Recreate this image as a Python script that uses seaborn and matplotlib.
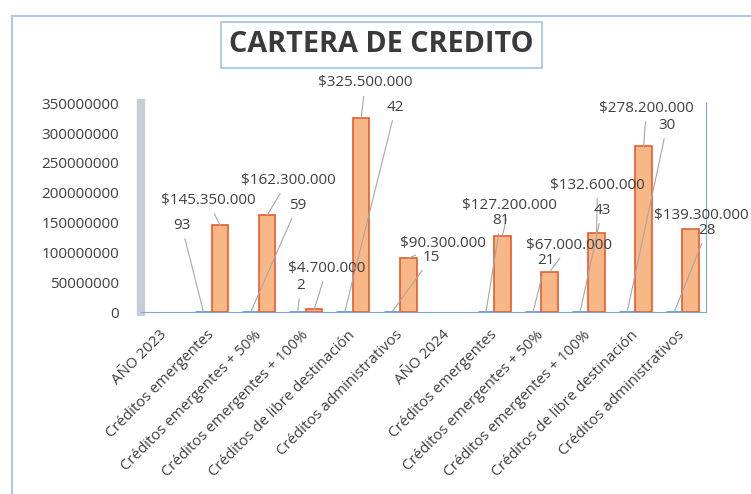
import pandas as pd
import numpy as np
import matplotlib.pyplot as plt
import matplotlib.transforms as mtrans
import seaborn as sns

# Data
categorias = ['AÑO 2023', 'Créditos emergentes', 'Créditos emergentes + 50%',
              'Créditos emergentes + 100%', 'Créditos de libre destinación',
              'Créditos administrativos',
              'AÑO 2024', 'Créditos emergentes', 'Créditos emergentes + 50%',
              'Créditos emergentes + 100%', 'Créditos de libre destinación',
              'Créditos administrativos']
cantidad = [np.nan, 93, 59, 2, 42, 15, np.nan, 81, 21, 43, 30, 28]
valor = [np.nan, 145350000, 162300000, 4700000, 325500000, 90300000,
         np.nan, 127200000, 67000000, 132600000, 278200000, 139300000]

# label offsets (pixels) relative to the bar they describe
off_valor = [None, (-12, 25), (21, 35), (13, 41), (4, 35), (35, 15),
             None, (7, 31), (20, 27), (1, 48), (3, 38), (11, 14)]
off_cant = [None, (-22, 87), (47, 107), (3, 27), (51, 205), (40, 55),
            None, (15, 92), (13, 52), (22, 102), (40, 187), (33, 82)]

pos = list(range(len(categorias)))
df = pd.DataFrame({
    'pos': pos * 2,
    'monto': cantidad + valor,
    'serie': ['Cantidad'] * len(pos) + ['Valor'] * len(pos),
})

sns.set_style('white')
plt.rcParams['font.family'] = ['Open Sans', 'DejaVu Sans']

fig = plt.figure(figsize=(7.51, 4.94), dpi=100)
ax = fig.add_axes([0.188, 0.368, 0.752, 0.423])

sns.barplot(data=df, x='pos', y='monto', hue='serie', ax=ax, width=0.7,
            palette={'Cantidad': '#9DC3E6', 'Valor': '#F8B787'},
            edgecolor='#E85B2C', linewidth=1.2, legend=False, saturation=1)
# blue bars get their own edge
for patch in ax.containers[0]:
    patch.set_edgecolor('#5B9BD5')
    patch.set_linewidth(2)

ax.set_ylim(0, 350000000)
ax.set_yticks(range(0, 350000001, 50000000))
ax.set_yticklabels([str(v) for v in range(0, 350000001, 50000000)],
                   fontsize=11, color='#404040')
ax.set_xlim(-0.5, len(pos) - 0.5)
ax.set_xticks(pos)
ax.set_xticklabels(categorias, rotation=45, ha='right', rotation_mode='anchor',
                   fontsize=10.8, color='#404040')
ax.set_xlabel('')
ax.set_ylabel('')
ax.tick_params(axis='x', length=0, pad=11)
ax.tick_params(axis='y', length=0, pad=16)
shift = mtrans.ScaledTranslation(-5 / 100, 0, fig.dpi_scale_trans)
for lab in ax.get_xticklabels():
    lab.set_transform(lab.get_transform() + shift)

ax.spines['top'].set_visible(False)
ax.spines['left'].set_color('#C8CDD6')
ax.spines['left'].set_linewidth(6)
ax.spines['bottom'].set_color('#7FA7D9')
ax.spines['right'].set_color('#7FA7D9')

# data labels with leader lines
lead = dict(arrowstyle='-', color='#A6A6A6', lw=0.8, shrinkA=2, shrinkB=0)
validos = [i for i in pos if off_valor[i] is not None]
for k, i in enumerate(validos):
    bc = ax.containers[0][k]
    bv = ax.containers[1][k]
    xv = bv.get_x() + bv.get_width() / 2
    xc = bc.get_x() + bc.get_width() / 2
    txt = '$' + f'{int(valor[i]):,}'.replace(',', '.')
    ax.annotate(txt, xy=(xv, valor[i]), xytext=off_valor[i],
                textcoords='offset pixels', ha='center', va='center',
                fontsize=11, color='#404040', arrowprops=lead)
    ax.annotate(str(cantidad[i]), xy=(xc, 0), xytext=off_cant[i],
                textcoords='offset pixels', ha='center', va='center',
                fontsize=11, color='#404040', arrowprops=lead)

# title in a box
fig.text(0.508, 0.909, 'CARTERA DE CREDITO', ha='center', va='center',
         fontsize=20.7, fontweight='bold', color='#3A3A3A',
         bbox=dict(boxstyle='square,pad=0.3', facecolor='white',
                   edgecolor='#9DC3E6', linewidth=1.2))

# outer chart border
fig.add_artist(plt.Rectangle((0.016, -0.01), 1.0, 0.978, transform=fig.transFigure,
                             fill=False, edgecolor='#A9C8EA', linewidth=1.5))

fig.savefig('out.png', dpi=100)
